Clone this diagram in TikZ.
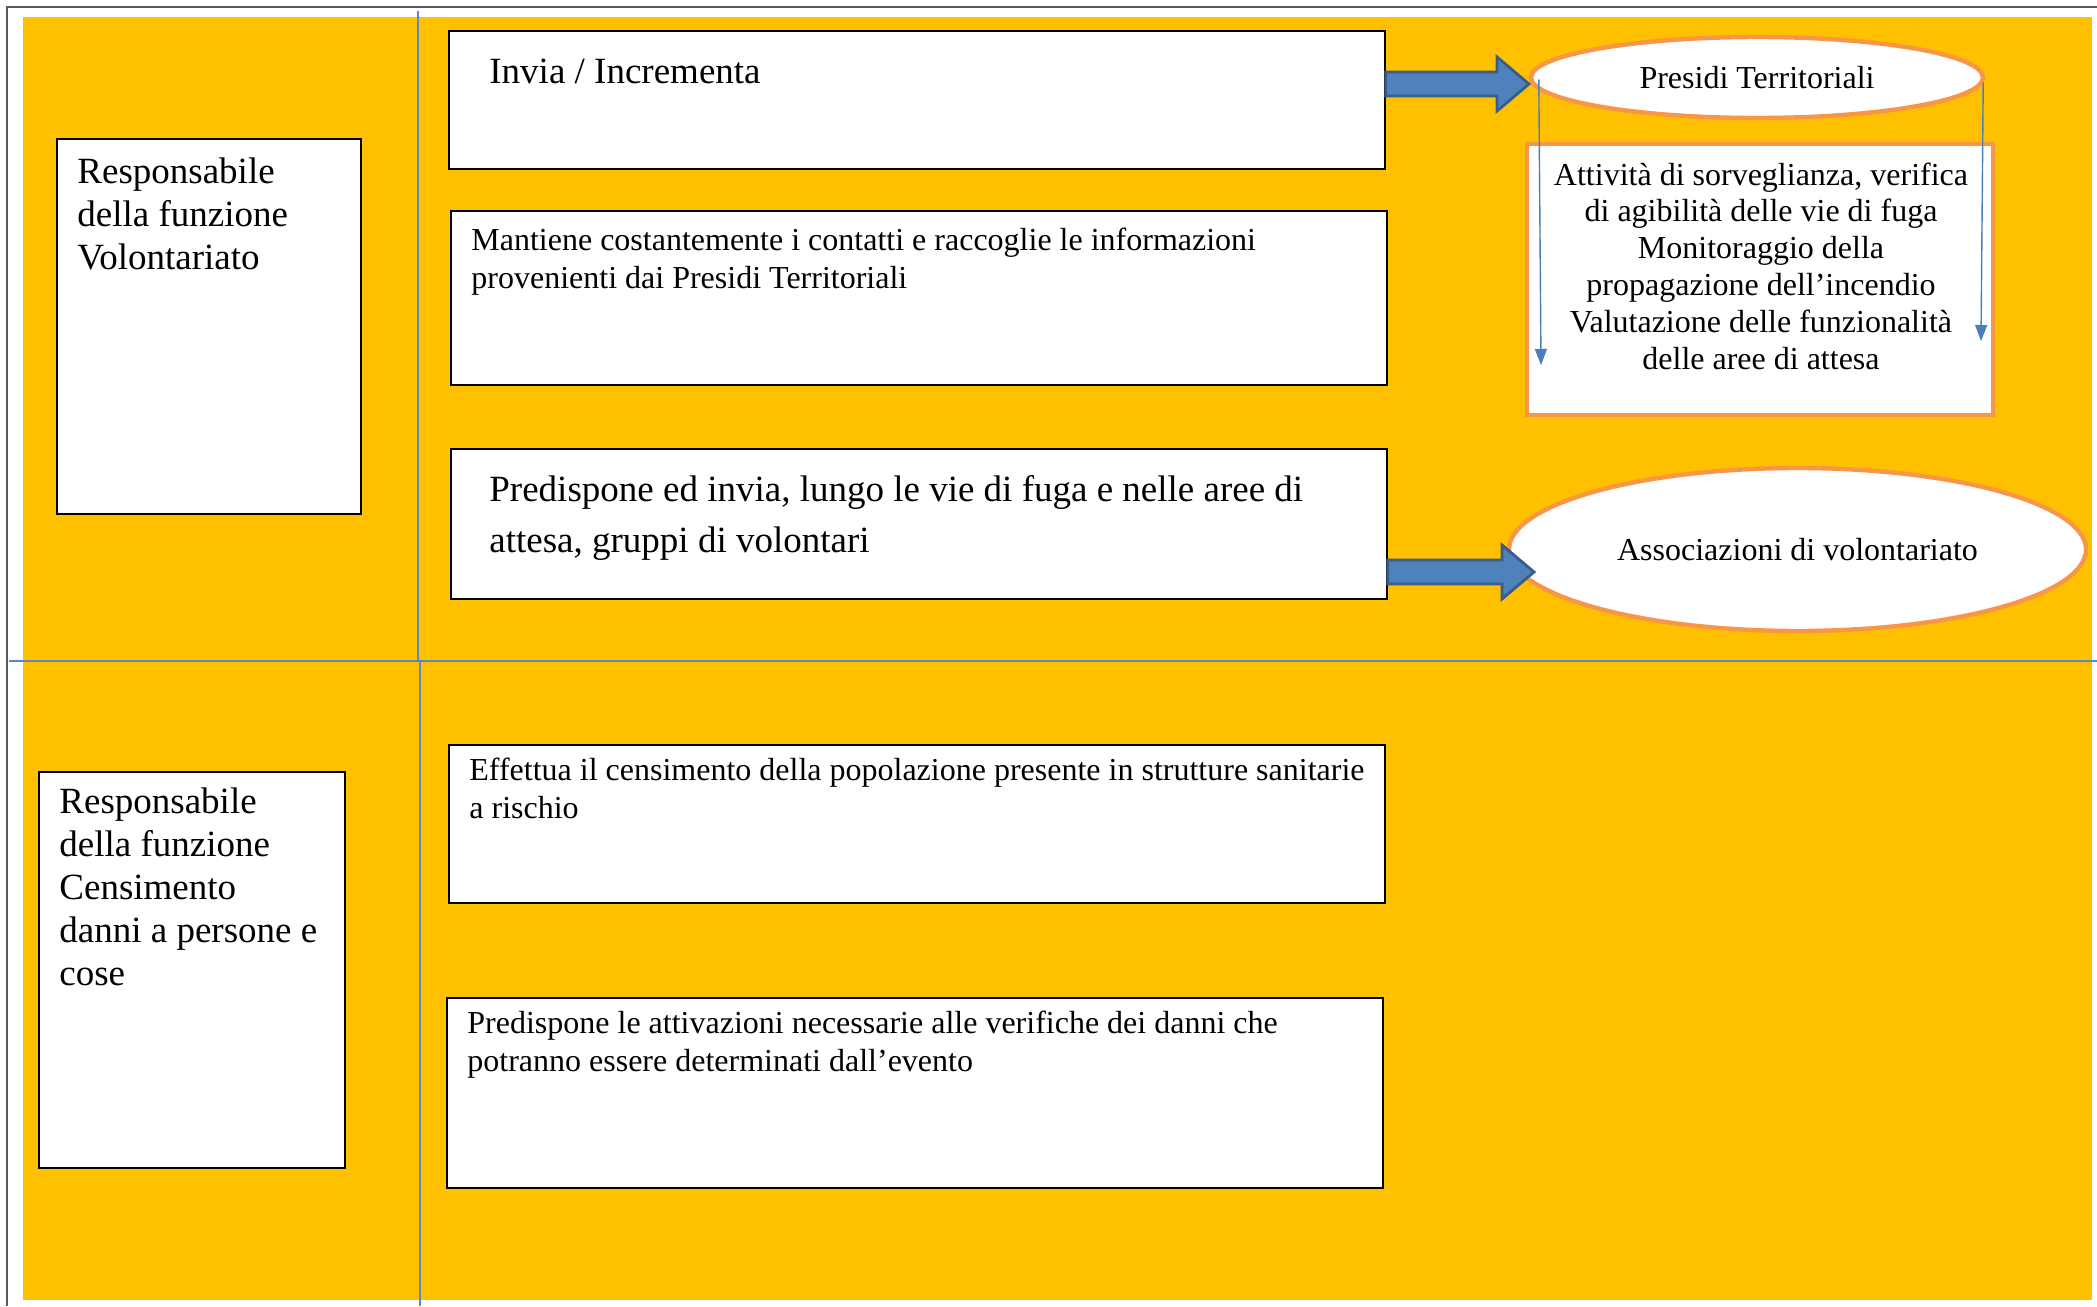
\documentclass[tikz,border=0pt]{standalone}
\usepackage{fontspec}
\setmainfont{Liberation Serif}
\usetikzlibrary{calc,shapes.geometric,arrows.meta}

\definecolor{bgyellow}{HTML}{FFC000}
\definecolor{divblue}{HTML}{5B87C5}
\definecolor{orangeline}{HTML}{F79646}
\definecolor{arrowfill}{HTML}{4F81BD}
\definecolor{arrowedge}{HTML}{385D8A}
\definecolor{thinblue}{HTML}{4A7EBB}
\definecolor{framegray}{HTML}{595959}

\tikzset{
  whitebox/.style={draw=black, line width=0.8pt, fill=white, inner sep=0pt},
  orangebox/.style={draw=orangeline, line width=2.2pt, fill=white, inner sep=0pt},
  orangeell/.style={ellipse, draw=orangeline, line width=2.2pt, fill=white, inner sep=0pt},
  divider/.style={draw=divblue, line width=0.8pt},
  blockarrow/.style={fill=arrowfill, draw=arrowedge, line width=1.4pt, line join=miter},
  thinarrow/.style={draw=thinblue, line width=0.7pt, -{Triangle[length=8pt,width=6pt]}},
  % multi-line texts are placed by the baseline of their last line
  lefttext/.style={anchor=base west, align=left, inner sep=0pt},
}

% block arrow from the point #1 to the tip #2 (horizontal)
\newcommand\drawblockarrow[2]{%
  \draw[blockarrow] let \p1=(#1), \p2=(#2) in
    (\x1,\y1+6pt) -- (\x2-16pt,\y1+6pt) -- (\x2-16pt,\y1+13.5pt) -- (\x2,\y1)
    -- (\x2-16pt,\y1-13.5pt) -- (\x2-16pt,\y1-6pt) -- (\x1,\y1-6pt) -- cycle;}

\newcommand\fsbig{\fontsize{18.5}{21.5}\selectfont}
\newcommand\fssmall{\fontsize{16}{18.6}\selectfont}

\begin{document}
\begin{tikzpicture}[x=0.5pt,y=-0.5pt]
\useasboundingbox (0,0) rectangle (2097,1306);

% page frame and coloured background
\draw[framegray, line width=0.8pt] (7,1306) -- (7,7) -- (2097,7);
\fill[bgyellow] (23,17) rectangle (2092,1300);

% table rules
\draw[divider] (418,11) -- (418,661);
\draw[divider] (420,661) -- (420,1306);
\draw[divider] (9,661) -- (2097,661);

% --- upper row: volontariato ---
\node[whitebox, minimum width=152pt, minimum height=187.5pt] (resp1) at (209,326.5) {};
\node[lefttext, font=\fsbig] (resp1t) at (77,269) {Responsabile\\della funzione\\Volontariato};

\node[whitebox, minimum width=468pt, minimum height=69pt] (inv) at (917,100) {};
\node[lefttext, font=\fsbig] (invt) at (489,83) {Invia / Incrementa};

\node[whitebox, minimum width=468pt, minimum height=87pt] (mant) at (919,298) {};
\node[lefttext, font=\fssmall] (mantt) at (471,288)
  {Mantiene costantemente i contatti e raccoglie le informazioni\\provenienti dai Presidi Territoriali};

\node[whitebox, minimum width=468pt, minimum height=75pt] (pred) at (919,524) {};
\node[lefttext, font=\fontsize{18.5}{25.5}\selectfont] (predt) at (489,552)
  {Predispone ed invia, lungo le vie di fuga e nelle aree di\\attesa, gruppi di volontari};

\node[orangebox, minimum width=233pt, minimum height=135.5pt] (att) at (1760,279.5) {};
\node[anchor=base, align=center, inner sep=0pt, font=\fontsize{16}{18.4}\selectfont] (attt) at (1761,369)
  {Attività di sorveglianza, verifica\\di agibilità delle vie di fuga\\Monitoraggio della\\propagazione dell’incendio\\Valutazione delle funzionalità\\delle aree di attesa};

\node[orangeell, minimum width=226pt, minimum height=40.5pt, font=\fssmall] (ell1) at (1757,77.5) {Presidi Territoriali};
\node[orangeell, minimum width=288.5pt, minimum height=81.5pt, font=\fssmall] (ell2) at (1797.5,549.5) {Associazioni di volontariato};

% --- lower row: censimento danni ---
\node[whitebox, minimum width=153pt, minimum height=198pt] (resp2) at (192,970) {};
\node[lefttext, font=\fsbig] (resp2t) at (59,985)
  {Responsabile\\della funzione\\Censimento\\danni a persone e\\cose};

\node[whitebox, minimum width=468pt, minimum height=79pt] (eff) at (917,824) {};
\node[lefttext, font=\fssmall] (efft) at (469,818)
  {Effettua il censimento della popolazione presente in strutture sanitarie\\a rischio};

\node[whitebox, minimum width=468pt, minimum height=95pt] (predb) at (915,1093) {};
\node[lefttext, font=\fssmall] (predbt) at (467,1071)
  {Predispone le attivazioni necessarie alle verifiche dei danni che\\potranno essere determinati dall’evento};

% --- connectors ---
\coordinate (tipA) at (1529,84);
\coordinate (tipB) at (1534,572);
\drawblockarrow{inv.east |- tipA}{tipA}
\drawblockarrow{pred.east |- tipB}{tipB}

\coordinate (endL) at (1541,365);
\coordinate (endR) at (1981,341);
\draw[thinarrow] ($(ell1.west)+(10,2)$) -- (endL);
\draw[thinarrow] ($(ell1.east)+(-2,5)$) -- (endR);
\end{tikzpicture}
\end{document}
